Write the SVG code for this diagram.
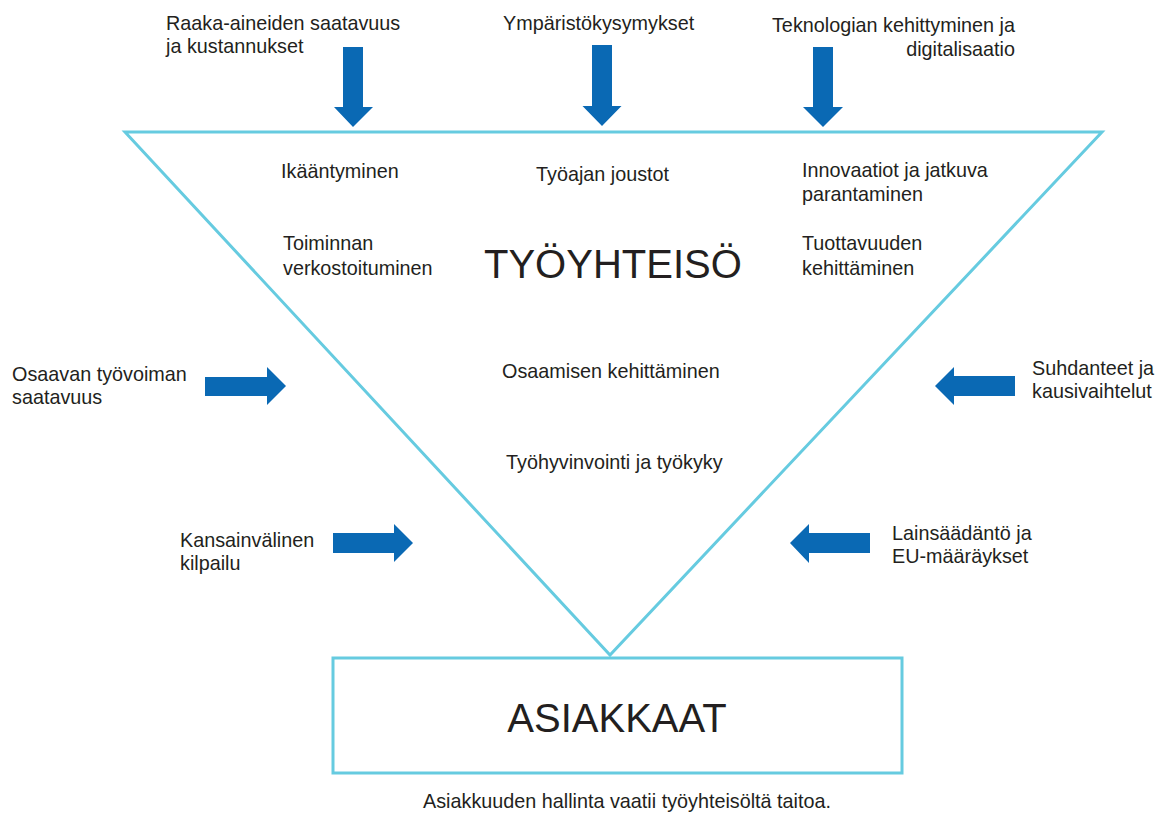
<svg xmlns="http://www.w3.org/2000/svg" width="1161" height="813" viewBox="0 0 1161 813">
<style>
text{font-family:"Liberation Sans",Arial,sans-serif;fill:#231F20;font-size:19.8px}
.big{font-size:40px}
.frame{fill:none;stroke:#66CBE0;stroke-width:3}
.arr{fill:#0A69B4}
</style>
<rect width="1161" height="813" fill="#fff"/>
<g id="tyoyhteiso">
<polygon class="frame" points="125,132 1102,132 610,655"/>
<text class="big" x="484" y="278">TYÖYHTEISÖ</text>
<text x="281" y="178">Ikääntyminen</text>
<text x="536" y="181">Työajan joustot</text>
<text x="802" y="177">Innovaatiot ja jatkuva</text>
<text x="802" y="201">parantaminen</text>
<text x="283" y="250">Toiminnan</text>
<text x="283" y="275">verkostoituminen</text>
<text x="802" y="250">Tuottavuuden</text>
<text x="802" y="275">kehittäminen</text>
<text x="502" y="378">Osaamisen kehittäminen</text>
<text x="506" y="469">Työhyvinvointi ja työkyky</text>
</g>
<g id="asiakkaat">
<rect class="frame" x="333" y="658" width="569" height="115"/>
<text class="big" x="617" y="732" text-anchor="middle">ASIAKKAAT</text>
<text x="627" y="808" text-anchor="middle">Asiakkuuden hallinta vaatii työyhteisöltä taitoa.</text>
</g>
<g id="raaka-aineet">
<text x="166" y="30">Raaka-aineiden saatavuus</text>
<text x="166" y="53">ja kustannukset</text>
</g>
<g id="ymparisto">
<text x="503" y="30">Ympäristökysymykset</text>
</g>
<g id="teknologia">
<text x="1015" y="32" text-anchor="end">Teknologian kehittyminen ja</text>
<text x="1015" y="56" text-anchor="end">digitalisaatio</text>
</g>
<g id="osaava-tyovoima">
<text x="12" y="381">Osaavan työvoiman</text>
<text x="12" y="404">saatavuus</text>
</g>
<g id="kansainvalinen">
<text x="180" y="547">Kansainvälinen</text>
<text x="180" y="570">kilpailu</text>
</g>
<g id="suhdanteet">
<text x="1032" y="375">Suhdanteet ja</text>
<text x="1032" y="398">kausivaihtelut</text>
</g>
<g id="lainsaadanto">
<text x="892" y="540">Lainsäädäntö ja</text>
<text x="892" y="563">EU-määräykset</text>
</g>
<g id="connectors">
<polygon class="arr" points="343,47 363,47 363,107 373,107 353,127 334,107 343,107"/>
<polygon class="arr" points="592,45 612,45 612,106 621.5,106 602,126 582.5,106 592,106"/>
<polygon class="arr" points="813,47 833,47 833,107 843,107 823,127 803,107 813,107"/>
<polygon class="arr" points="205,377 267,377 267,367 286,386 267,405 267,396 205,396"/>
<polygon class="arr" points="333,533 394,533 394,524 413,543 394,562 394,553 333,553"/>
<polygon class="arr" points="1015,376 954,376 954,367 935,386 954,405 954,396 1015,396"/>
<polygon class="arr" points="870,533 809,533 809,524 790,543 809,563 809,553 870,553"/>
</g>
</svg>
